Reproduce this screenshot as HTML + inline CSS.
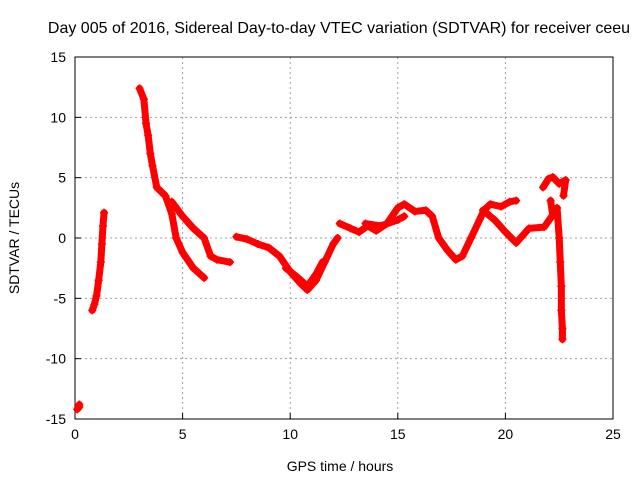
<!DOCTYPE html>
<html><head><meta charset="utf-8"><style>
body{margin:0;background:#fff;}
svg{display:block;font-family:"Liberation Sans",sans-serif;}
</style></head><body>
<svg id="c" width="640" height="480"></svg>
<script>
const xTicks=[0,5,10,15,20,25];
const yTicks=[-15,-10,-5,0,5,10,15];
const seg1=[[0.1,-14.2],[0.15,-14.1],[0.2,-14.0],[0.2,-13.8]];
const seg2=[[0.8,-6],[0.9,-5.5],[1.0,-4.8],[1.1,-3.5],[1.2,-2],[1.25,-0.5],[1.3,1],[1.35,2.1]];
const seg3=[[3.0,12.4],[3.2,11.5],[3.3,9.5],[3.4,8.5],[3.5,7],[3.6,6],[3.8,4.2],[4.2,3.5],[4.5,2],[4.7,0],[5.0,-1.2],[5.5,-2.5],[6.0,-3.3]];
const seg4=[[4.5,3],[5.0,1.8],[5.5,0.8],[6.0,0],[6.3,-1.5],[6.6,-1.8],[7.2,-2]];
const seg5=[[7.5,0.1],[8,-0.1],[8.5,-0.5],[9.0,-0.8],[9.5,-1.5],[10,-2.8],[10.5,-3.8],[10.8,-4.3],[11.2,-3.5],[11.6,-2],[12,-0.5],[12.2,0]];
const seg6=[[9.8,-2.5],[10.3,-3.2],[10.8,-4],[11.2,-3],[11.5,-2]];
const seg7=[[12.3,1.2],[12.8,0.8],[13.2,0.5],[13.6,1],[14,0.6],[14.5,1.2],[15,2.5],[15.3,2.8],[15.8,2.2],[16.3,2.3],[16.6,1.8],[16.9,0],[17.3,-1],[17.7,-1.8],[18.0,-1.5],[18.4,0],[18.8,1.5],[19.0,2.3],[19.3,2.8],[19.8,2.6],[20.2,3],[20.5,3.1]];
const seg8=[[18.96,2.3],[19.5,1.5],[20.0,0.5],[20.5,-0.4],[21.1,0.8],[21.8,0.9],[22.2,1.9],[22.1,3.1]];
const seg9=[[21.75,4.2],[22.0,4.9],[22.2,5.05],[22.5,4.5],[22.8,4.8],[22.7,3.5]];
const seg10=[[22.4,2.5],[22.5,0],[22.55,-2],[22.6,-4],[22.6,-6],[22.65,-7.5],[22.65,-8.4]];
const seg11=[[13.5,1.2],[14.2,1.0],[15.0,1.5],[15.3,1.8]];
const segs=[seg1,seg2,seg3,seg4,seg5,seg6,seg7,seg8,seg9,seg10,seg11];
const X0=75,X1=613,Y0=419,Y1=57;
const sx=v=>X0+(v-0)/25*(X1-X0);
const sy=v=>Y0-(v+15)/30*(Y0-Y1);
const svg=document.getElementById('c');
const NS='http://www.w3.org/2000/svg';
function mk(t,a){const e=document.createElementNS(NS,t);for(const k in a)e.setAttribute(k,a[k]);svg.appendChild(e);return e;}
xTicks.forEach(t=>{
 if(t>0&&t<25){const g=mk('line',{x1:sx(t),x2:sx(t),y1:Y0,y2:Y1,stroke:'#a0a0a0','stroke-dasharray':'2,3'});
 
 }
 const tk=mk('line',{x1:sx(t),x2:sx(t),y1:Y0,y2:Y0-6,stroke:'#000'});
 
 
 const l=mk('text',{x:sx(t),y:Y0+20,'text-anchor':'middle','font-size':14});l.textContent=t;
 
 
});
yTicks.forEach(t=>{
 if(t>-15&&t<15){const g=mk('line',{x1:X0,x2:X1,y1:sy(t),y2:sy(t),stroke:'#a0a0a0','stroke-dasharray':'2,3'});
 
 }
 const tk=mk('line',{x1:X0,x2:X0+6,y1:sy(t),y2:sy(t),stroke:'#000'});
 
 
 const l=mk('text',{x:X0-9,y:sy(t)+5,'text-anchor':'end','font-size':14});l.textContent=t;
 
 
});
const fr=mk('rect',{x:X0,y:Y1,width:X1-X0,height:Y0-Y1,fill:'none',stroke:'#000'});


segs.forEach(s=>{
 const pl=mk('polyline',{points:s.map(p=>sx(p[0])+','+sy(p[1])).join(' '),fill:'none',stroke:'#f00','stroke-width':7,'stroke-linejoin':'round','stroke-linecap':'round'});
 
 
 s.forEach(p=>{
  const m=mk('path',{d:`M${sx(p[0])-4},${sy(p[1])}h8M${sx(p[0])},${sy(p[1])-4}v8`,stroke:'#f00','stroke-width':1.5});
  
  
 });
});
const tt=mk('text',{x:339,y:33,'text-anchor':'middle','font-size':16});tt.textContent='Day 005 of 2016, Sidereal Day-to-day VTEC variation (SDTVAR) for receiver ceeu';


const xt=mk('text',{x:340,y:471,'text-anchor':'middle','font-size':14});xt.textContent='GPS time / hours';


const yt=mk('text',{x:0,y:0,'text-anchor':'middle','font-size':14,transform:'translate(19,238) rotate(-90)'});yt.textContent='SDTVAR / TECUs';


</script>
</body></html>
